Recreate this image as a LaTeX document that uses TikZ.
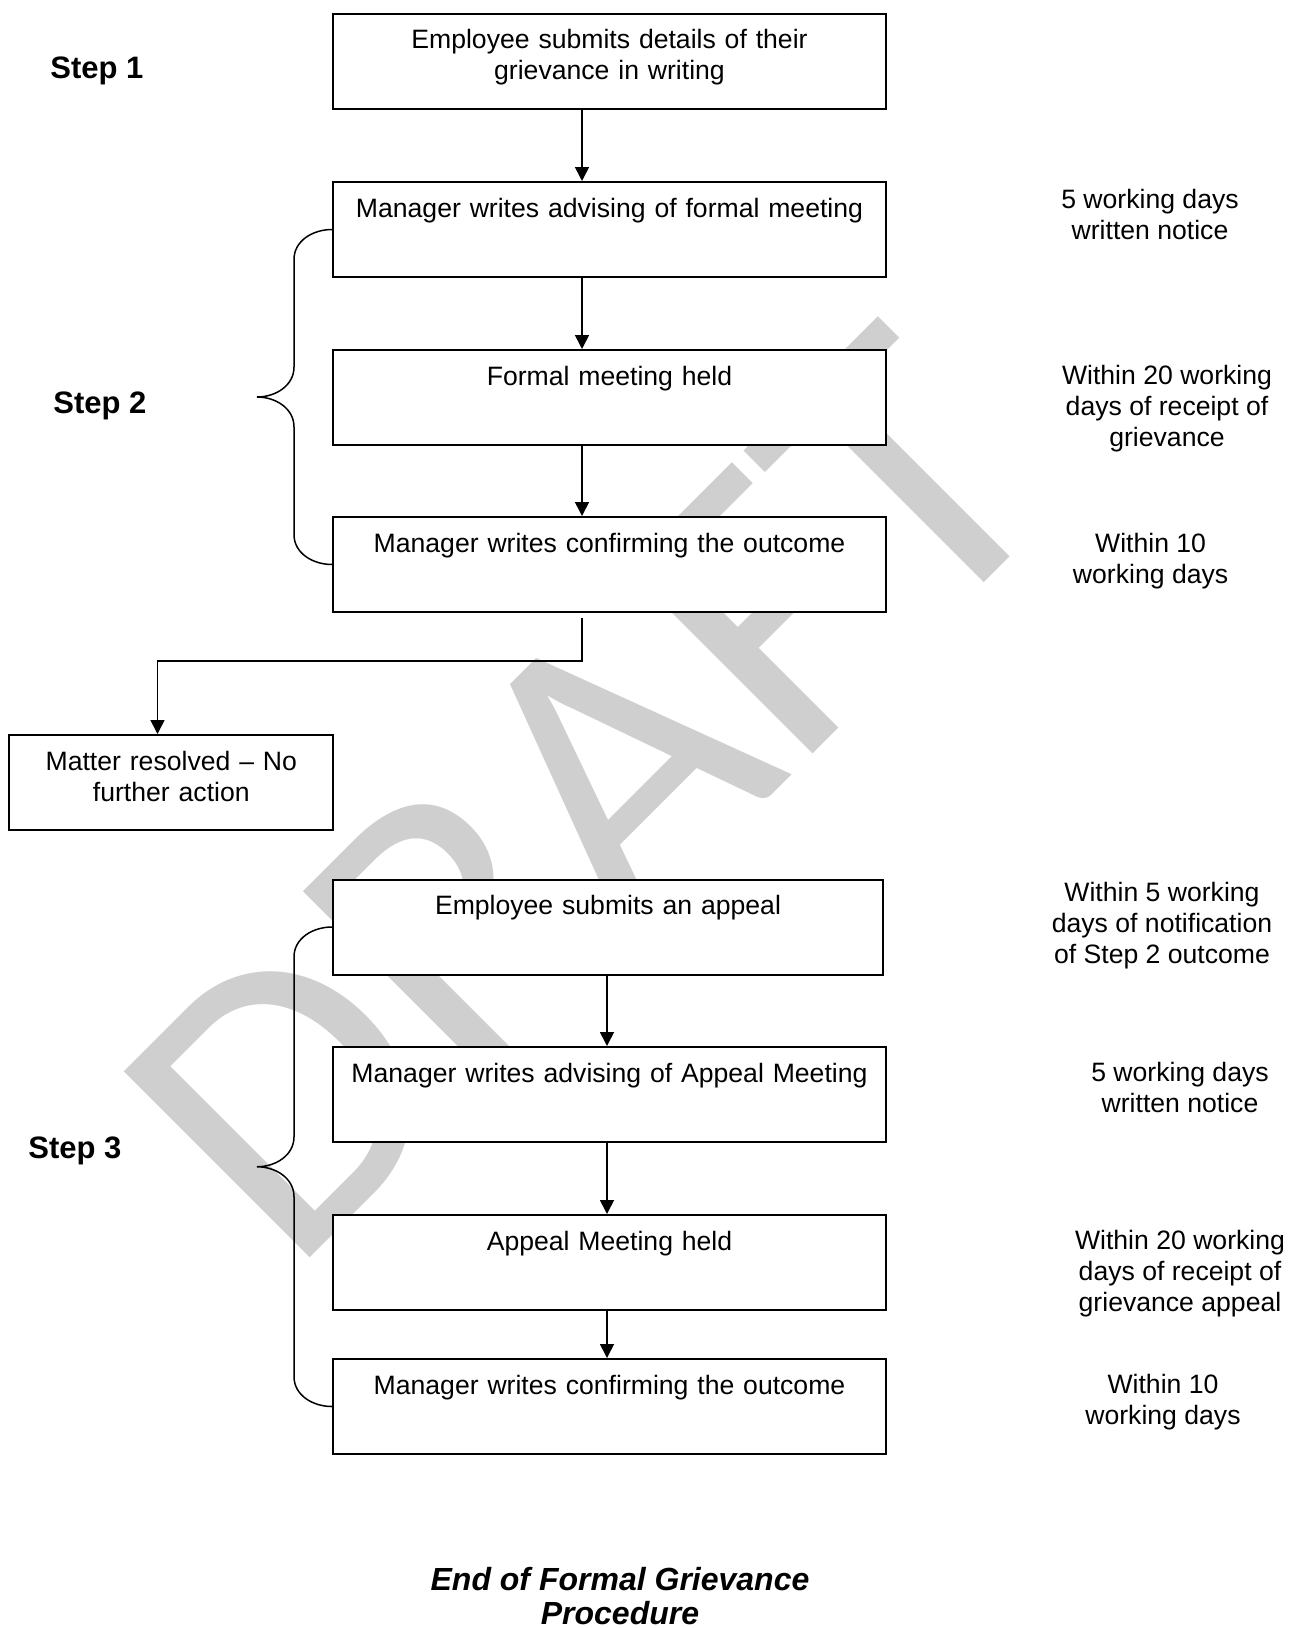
\documentclass[tikz,border=0pt]{standalone}
\usepackage{fontspec}
\setmainfont{Liberation Sans}
\newfontfamily\draftfont{Carlito}
\usetikzlibrary{calc,arrows.meta}
\definecolor{draftgrey}{gray}{0.81}

\begin{document}
\begin{tikzpicture}[x=0.5pt,y=-0.5pt,
    stepbox/.style={draw,line width=1pt,fill=white,anchor=north west,align=center,
      inner xsep=3pt,inner ysep=0pt,text width=270.5pt,text height=17.5pt,text depth=30pt,
      font=\fontsize{13.3}{15.5}\selectfont},
    flow/.style={-{Triangle[length=7pt,width=7pt]},line width=0.8pt},
    curly/.style={line width=0.75pt},
    steplabel/.style={anchor=west,inner sep=0pt,font=\bfseries\fontsize{15.5}{18}\selectfont},
    timing/.style={align=center,font=\fontsize{13.3}{15.5}\selectfont}
  ]
  \useasboundingbox (0,0) rectangle (1296,1628);

  % watermark
  \begin{scope}
    \clip (0,0) rectangle (1028,1628);
    \node[rotate=45,text=draftgrey,inner sep=0pt,font=\draftfont\fontsize{205}{205}\selectfont] (draft) at (586,795) {DRAFT};
  \end{scope}

  \node[stepbox] (submit) at (332,12.5) {Employee submits details of their\\grievance in writing};
  \node[stepbox] (notify) at (332,181) {Manager writes advising of formal meeting};
  \node[stepbox] (meeting) at (332,349) {Formal meeting held};
  \node[stepbox] (outcome) at (332,516) {Manager writes confirming the outcome};
  \node[stepbox,text width=156pt] (resolved) at (8.3,734) {Matter resolved – No\\further action};
  \node[stepbox,text width=269pt] (appeal) at (332,878.5) {Employee submits an appeal};
  \node[stepbox] (appnotify) at (332,1046) {Manager writes advising of Appeal Meeting};
  \node[stepbox] (appmeeting) at (332,1214) {Appeal Meeting held};
  \node[stepbox] (appoutcome) at (332,1358) {Manager writes confirming the outcome};

  \node[steplabel] (step1) at (50,70.5) {Step 1};
  \node[steplabel] (step2) at (53,406) {Step 2};
  \node[steplabel] (step3) at (28,1150.5) {Step 3};

  \node[timing] (days1) at (1150,214) {5 working days\\written notice};
  \node[timing] (days2) at (1167,408.5) {Within 20 working\\days of receipt of\\grievance};
  \node[timing] (days3) at (1150.6,561.5) {Within 10\\working days};
  \node[timing] (days4) at (1162,925.5) {Within 5 working\\days of notification\\of Step 2 outcome};
  \node[timing] (days5) at (1180,1087) {5 working days\\written notice};
  \node[timing] (days6) at (1180,1274) {Within 20 working\\days of receipt of\\grievance appeal};
  \node[timing] (days7) at (1163,1402) {Within 10\\working days};

  \node[align=center,font=\bfseries\itshape\fontsize{16}{17}\selectfont] (finish) at (620,1595.6) {End of Formal Grievance\\Procedure};

  \coordinate (spine) at (582,0);
  \coordinate (spineb) at (607,0);
  \draw[flow] (submit.south -| spine) -- (notify.north -| spine);
  \draw[flow] (notify.south -| spine) -- (meeting.north -| spine);
  \draw[flow] (meeting.south -| spine) -- (outcome.north -| spine);
  \coordinate (drop) at ($(outcome.south -| spine)+(0,5)$);
  \coordinate (bend) at (157.5,661);
  \draw[flow] (drop) |- (bend) -- (resolved.north -| bend);

  \draw[flow] (appeal.south -| spineb) -- (appnotify.north -| spineb);
  \draw[flow] (appnotify.south -| spineb) -- (appmeeting.north -| spineb);
  \draw[flow] (appmeeting.south -| spineb) -- (appoutcome.north -| spineb);

  % braces
  \coordinate (tip2) at ($(notify.west)!0.5!(outcome.west)+(-75,0)$);
  \draw[curly] (notify.west) to[out=180,in=90] ($(notify.west)+(-38,30)$) -- ($(tip2)+(37,-30)$)
    to[out=-90,in=0] (tip2) to[out=0,in=90] ($(tip2)+(37,30)$) -- ($(outcome.west)+(-38,-30)$)
    to[out=-90,in=180] (outcome.west);
  \coordinate (tip3) at ($(appeal.west)!0.5!(appoutcome.west)+(-75,0)$);
  \draw[curly] (appeal.west) to[out=180,in=90] ($(appeal.west)+(-38,30)$) -- ($(tip3)+(37,-30)$)
    to[out=-90,in=0] (tip3) to[out=0,in=90] ($(tip3)+(37,30)$) -- ($(appoutcome.west)+(-38,-30)$)
    to[out=-90,in=180] (appoutcome.west);
\end{tikzpicture}
\end{document}
